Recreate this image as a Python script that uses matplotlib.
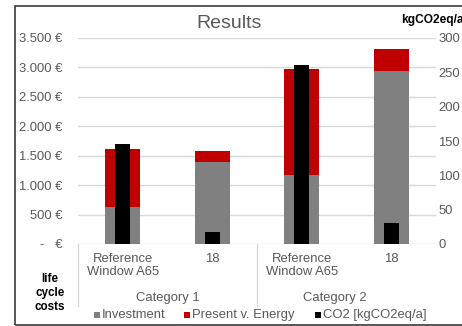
import matplotlib
matplotlib.use("Agg")
import matplotlib.pyplot as plt
from matplotlib.patches import Rectangle
from matplotlib.lines import Line2D
import matplotlib.transforms as mtransforms

plt.rcParams['font.family'] = ['Liberation Sans', 'DejaVu Sans']

categories = ["Category 1", "Category 2"]
items = ["Reference\nWindow A65", "18", "Reference\nWindow A65", "18"]
investment = [630, 1400, 1170, 2940]
energy = [980, 180, 1800, 370]
co2 = [145, 17, 260, 31]
left_ticks = [0, 500, 1000, 1500, 2000, 2500, 3000, 3500]
right_ticks = [0, 50, 100, 150, 200, 250, 300]

W, H = 462, 326
fig = plt.figure(figsize=(W / 100, H / 100), dpi=100)

def fx(x):
    return x / W

def fy(y):
    return 1 - y / H

TXT = "#595959"
FS = 9.4

# chart frame
fig.patches.append(Rectangle((fx(15), fy(325)), 1.2, fy(6) - fy(325), transform=fig.transFigure,
                             fill=False, edgecolor="#3a3a3a", linewidth=1.2))

ax = fig.add_axes([fx(78), fy(244), fx(436) - fx(78), fy(38) - fy(244)])
ax2 = ax.twinx()

x = list(range(len(items)))
ax.bar(x, investment, width=0.39, color="#808080", zorder=2, label="Investment")
ax.bar(x, energy, width=0.39, bottom=investment, color="#C00000", zorder=2, label="Present v. Energy")
ax2.bar(x, co2, width=0.17, color="#000000", zorder=3, label="CO2 [kgCO2eq/a]")

ax.set_xlim(-0.5, 3.5)
ax.set_ylim(0, 3500)
ax2.set_ylim(0, 300)
ax.set_yticks(left_ticks)

def eur(v):
    if v == 0:
        return "-   €"
    return f"{v:,}".replace(",", ".") + " €"

ax.set_yticklabels([eur(v) for v in left_ticks], fontsize=FS, color=TXT)
ax2.set_yticks(right_ticks)
ax2.set_yticklabels([str(v) for v in right_ticks], fontsize=FS, color=TXT)
ax.tick_params(axis='y', length=0, pad=11)
ax2.tick_params(axis='y', length=0, pad=1.5)
ax.set_xticks([])
ax2.set_xticks([])
ax.yaxis.grid(True, color="#D9D9D9", linewidth=1, zorder=0)
ax.set_axisbelow(True)
for a in (ax, ax2):
    for s in a.spines.values():
        s.set_visible(False)

# category axis labels
trans = mtransforms.blended_transform_factory(ax.transData, fig.transFigure)
for xi, lab in zip(x, items):
    ax.text(xi, fy(253), lab, transform=trans, ha="center", va="top", fontsize=FS,
            color=TXT, linespacing=1.1)
ax.text(0.5, fy(298), categories[0], transform=trans, ha="center", va="center", fontsize=FS, color=TXT)
ax.text(2.37, fy(298), categories[1], transform=trans, ha="center", va="center", fontsize=FS, color=TXT)
for xv in (-0.5, 1.5):
    fig.lines.append(Line2D([xv, xv], [fy(244), fy(306)], transform=trans, color="#D9D9D9", linewidth=1))

# title & labels
fig.text(fx(229), fy(24), "Results", ha="center", va="center", fontsize=14, color=TXT)
fig.text(fx(401), fy(20), "kgCO2eq/a", ha="left", va="center", fontsize=8.6, fontweight="bold", color="black")
fig.text(fx(50), fy(293), "life\ncycle\ncosts", ha="center", va="center", fontsize=8.4, fontweight="bold",
         color="black", linespacing=1.2)

# legend
leg_items = [(94, "#808080", "Investment"), (184, "#C00000", "Present v. Energy"), (315, "#000000", "CO2 [kgCO2eq/a]")]
for px, col, lab in leg_items:
    fig.patches.append(Rectangle((fx(px), fy(318)), fx(6), fy(312) - fy(318), transform=fig.transFigure,
                                 facecolor=col, edgecolor="none"))
    fig.text(fx(px + 8), fy(315), lab, ha="left", va="center", fontsize=FS, color=TXT)

fig.savefig("out.png", dpi=100)
